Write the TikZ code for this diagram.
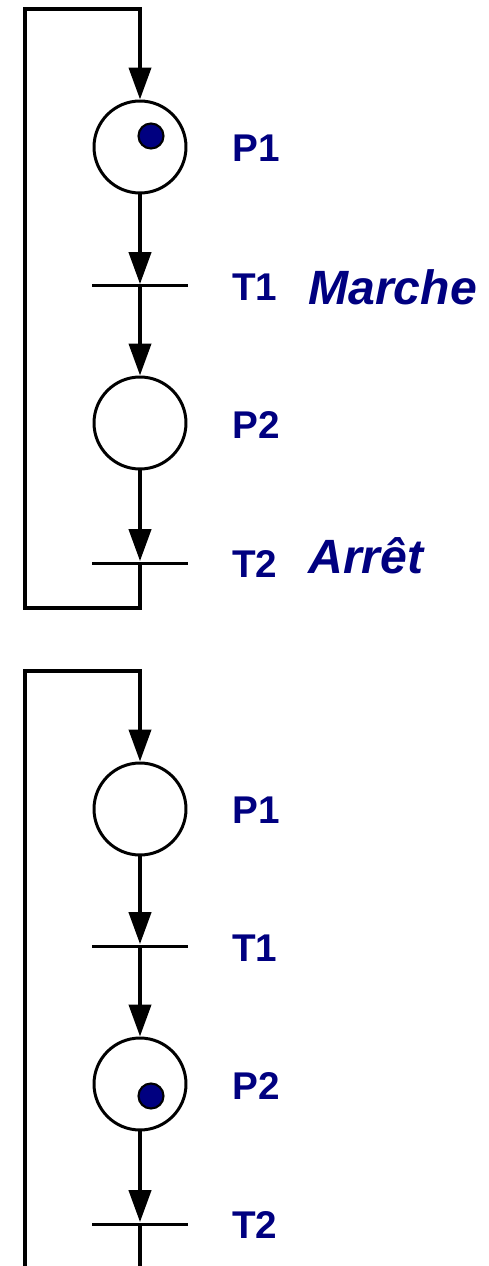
\documentclass[tikz,border=0pt]{standalone}
\usepackage{fontspec}
\setmainfont{Liberation Sans}
\usetikzlibrary{arrows.meta}
\definecolor{navy}{HTML}{000080}

\tikzset{
  place/.style={circle,draw,line width=1.7pt,minimum size=1.84cm,inner sep=0pt},
  bar/.style={rectangle,fill=black,minimum width=1.92cm,minimum height=0.06cm,inner sep=0pt},
  token/.style={circle,draw,line width=1.2pt,fill=navy,minimum size=0.5cm,inner sep=0pt},
  lbl/.style={anchor=west,inner sep=0pt,text=navy,font=\fontsize{22}{22}\selectfont\bfseries},
  cmd/.style={anchor=base west,inner sep=0pt,text=navy,font=\fontsize{27.4}{27.4}\selectfont\bfseries\itshape},
  flow/.style={line width=2.3pt,-{Triangle[length=0.64cm,width=0.44cm]}},
  wire/.style={line width=2.3pt}
}

\begin{document}
\begin{tikzpicture}[x=0.02cm,y=-0.02cm]
\useasboundingbox (0,0) rectangle (488,1266);

% net with the token in P1
\node[place] (a-p1) at (140,147) {};
\node[token] (a-k1) at (151,136) {};
\node[bar] (a-t1) at (140,286) {};
\node[place] (a-p2) at (140,423) {};
\node[bar] (a-t2) at (140,563) {};
\coordinate (a-bot) at (140,608);
\coordinate (a-tl) at (25,9);

\node[lbl] (a-lp1) at (232,148) {P1};
\node[lbl] (a-lt1) at (232,287) {T1};
\node[cmd] (a-go) at (308,305) {Marche};
\node[lbl] (a-lp2) at (232,425) {P2};
\node[lbl] (a-lt2) at (232,564) {T2};
\node[cmd] (a-stop) at (308,573) {Arrêt};

\draw[flow] (a-p1.south) -- (a-t1.north);
\draw[flow] (a-t1.center) -- (a-p2.north);
\draw[flow] (a-p2.south) -- (a-t2.north);
\draw[flow] (a-t2.center) -- (a-bot) -| (a-tl) -| (a-p1.north);

% net with the token in P2
\node[place] (b-p1) at (140,809) {};
\node[bar] (b-t1) at (140,946) {};
\node[place] (b-p2) at (140,1084) {};
\node[token] (b-k2) at (151,1096) {};
\node[bar] (b-t2) at (140,1224) {};
\coordinate (b-bot) at (140,1280);
\coordinate (b-bl) at (25,1280);
\coordinate (b-tl) at (25,671);

\node[lbl] (b-lp1) at (232,810) {P1};
\node[lbl] (b-lt1) at (232,948) {T1};
\node[lbl] (b-lp2) at (232,1086) {P2};
\node[lbl] (b-lt2) at (232,1225) {T2};

\draw[flow] (b-p1.south) -- (b-t1.north);
\draw[flow] (b-t1.center) -- (b-p2.north);
\draw[flow] (b-p2.south) -- (b-t2.north);
\draw[wire] (b-t2.center) -- (b-bot);
\draw[flow] (b-bl) -- (b-tl) -| (b-p1.north);
\end{tikzpicture}
\end{document}
